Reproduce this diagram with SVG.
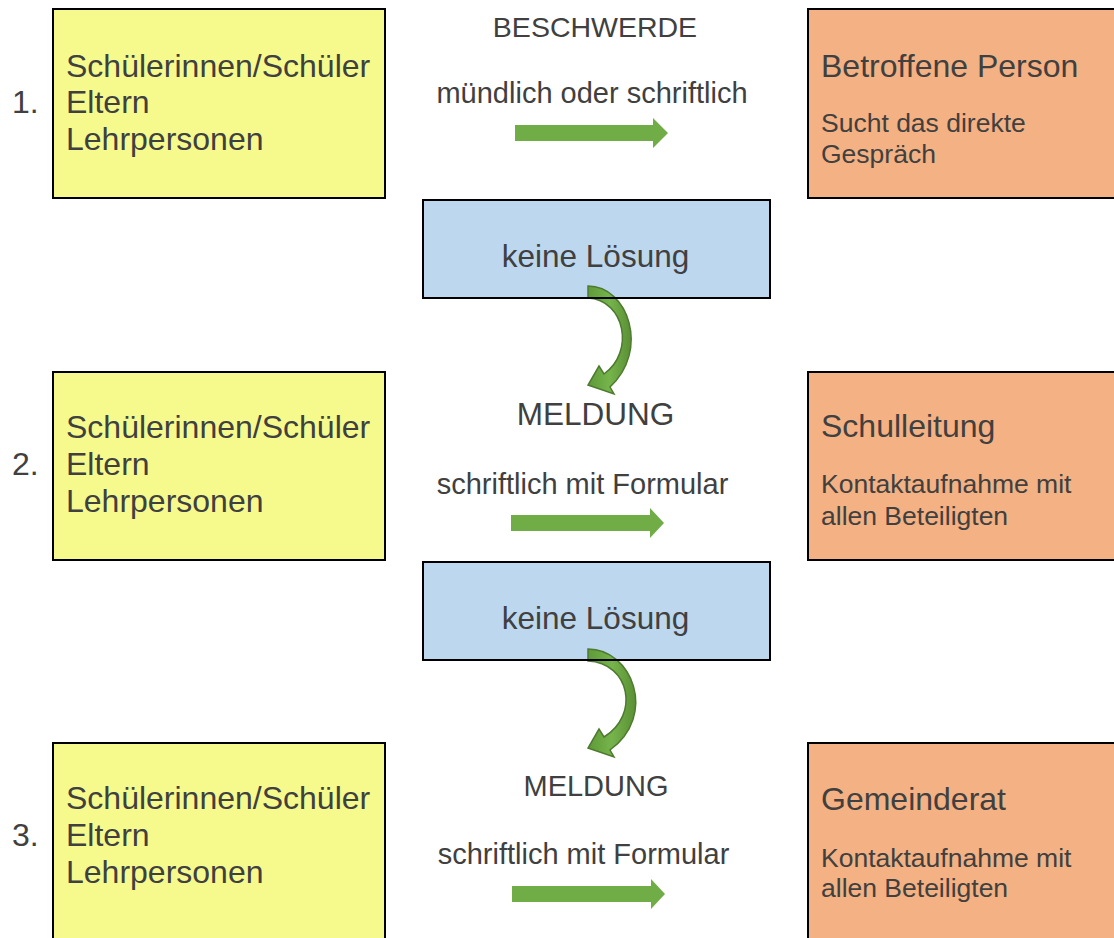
<svg xmlns="http://www.w3.org/2000/svg" width="1114" height="938" viewBox="0 0 1114 938">
<defs>
<style>
text{font-family:"Liberation Sans",Arial,sans-serif;fill:#404040}
.big{font-size:32px}
.hd{font-size:31.5px}
.mid{font-size:29px}
.sub{font-size:26.5px}
.c{text-anchor:middle}
.box{stroke:#000;stroke-width:2}
.y{fill:#F6FA8D}
.o{fill:#F4B183}
.b{fill:#BDD7EE}
.arr{fill:#70AD47}
.curve{fill:url(#gg);stroke:#4E7A30;stroke-width:1.5;stroke-linejoin:miter}
</style>
<linearGradient id="gg" x1="0" y1="0" x2="1" y2="0">
<stop offset="0" stop-color="#5E9A38"/>
<stop offset="0.5" stop-color="#76B44B"/>
<stop offset="1" stop-color="#5A8F35"/>
</linearGradient>
</defs>
<rect width="1114" height="938" fill="#fff"/>

<g id="row1-sender">
<rect class="box y" x="53" y="9" width="332" height="189"/>
<text class="big" x="12" y="113">1.</text>
<text class="big" x="66" y="77">Schülerinnen/Schüler</text>
<text class="big" x="66" y="113">Eltern</text>
<text class="big" x="66" y="150">Lehrpersonen</text>
</g>
<g id="row1-receiver">
<rect class="box o" x="808" y="9" width="320" height="189"/>
<text class="big" x="821" y="77">Betroffene Person</text>
<text class="sub" x="821" y="132">Sucht das direkte</text>
<text class="sub" x="821" y="163">Gespräch</text>
</g>
<g id="row1-label">
<text class="c" style="font-size:28.5px" x="595" y="37">BESCHWERDE</text>
<text class="c mid" x="592" y="103">mündlich oder schriftlich</text>
</g>
<g id="noresult1">
<rect class="b" x="423" y="200" width="347" height="98"/>
<text class="hd c" x="595.5" y="267">keine Lösung</text>
</g>

<g id="row2-sender">
<rect class="box y" x="53" y="372" width="332" height="188"/>
<text class="big" x="12" y="475">2.</text>
<text class="big" x="66" y="438">Schülerinnen/Schüler</text>
<text class="big" x="66" y="475">Eltern</text>
<text class="big" x="66" y="512">Lehrpersonen</text>
</g>
<g id="row2-receiver">
<rect class="box o" x="808" y="372" width="320" height="188"/>
<text class="big" x="821" y="437">Schulleitung</text>
<text class="sub" x="821" y="493">Kontaktaufnahme mit</text>
<text class="sub" x="821" y="525">allen Beteiligten</text>
</g>
<g id="row2-label">
<text class="c hd" x="595.5" y="425">MELDUNG</text>
<text class="c mid" x="582.5" y="494">schriftlich mit Formular</text>
</g>
<g id="noresult2">
<rect class="b" x="423" y="562" width="347" height="98"/>
<text class="hd c" x="595.5" y="629">keine Lösung</text>
</g>

<g id="row3-sender">
<rect class="box y" x="53" y="743" width="332" height="200"/>
<text class="big" x="12" y="846">3.</text>
<text class="big" x="66" y="809">Schülerinnen/Schüler</text>
<text class="big" x="66" y="846">Eltern</text>
<text class="big" x="66" y="883">Lehrpersonen</text>
</g>
<g id="row3-receiver">
<rect class="box o" x="808" y="743" width="320" height="200"/>
<text class="big" x="821" y="810">Gemeinderat</text>
<text class="sub" x="821" y="867">Kontaktaufnahme mit</text>
<text class="sub" x="821" y="897">allen Beteiligten</text>
</g>
<g id="row3-label">
<text class="c mid" x="596" y="796">MELDUNG</text>
<text class="c mid" x="583.5" y="864">schriftlich mit Formular</text>
</g>

<g id="connectors">
<polygon class="arr" points="515,125 653,125 653,118 668,133 653,148 653,141 515,141"/>
<polygon class="arr" points="511,515 650,515 650,508 664,523 650,538 650,531 511,531"/>
<polygon class="arr" points="512,886 651,886 651,879 665,894 651,909 651,902 512,902"/>
<path class="curve" d="M588,286 C628,286 650,350 610,387 L614,394 L588,385 L599,366 L604,374 C635,352 625,300 588,298 Z"/>
<path class="curve" d="M588,649 C632,649 658,715 610,750 L614,757 L588,748 L599,729 L604,737 C640,715 630,663 588,661 Z"/>
</g>
<rect x="423" y="200" width="347" height="98" fill="none" stroke="#000" stroke-width="2"/>
<rect x="423" y="562" width="347" height="98" fill="none" stroke="#000" stroke-width="2"/>
</svg>
